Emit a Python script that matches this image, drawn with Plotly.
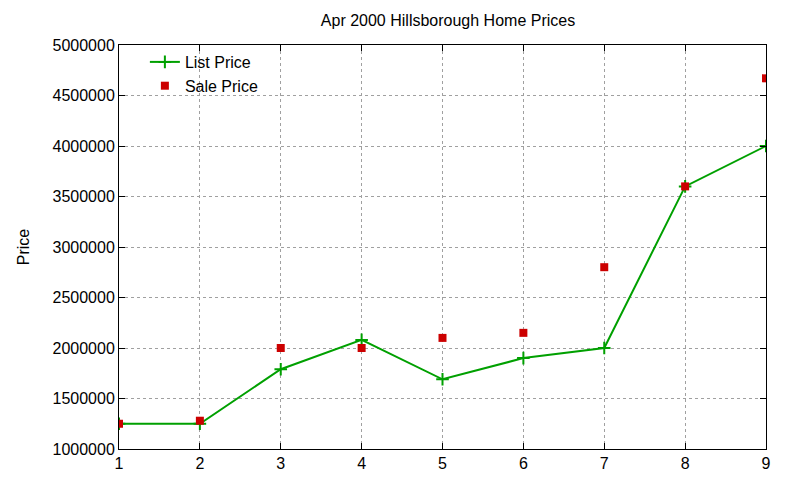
import plotly.graph_objects as go

x = [1, 2, 3, 4, 5, 6, 7, 8, 9]
list_price = [1250000, 1250000, 1790000, 2080000, 1690000, 1900000, 2000000, 3600000, 4000000]
sale_price = [1250000, 1280000, 2000000, 2000000, 2100000, 2150000, 2800000, 3600000, 4670000]

fig = go.Figure()
fig.add_trace(go.Scatter(x=x, y=list_price, mode="lines+markers", name="List Price",
                         line=dict(color="#00a000", width=2),
                         marker=dict(symbol="cross-thin", size=9, line=dict(color="#00a000", width=2))))
fig.add_trace(go.Scatter(x=x, y=sale_price, mode="markers", name="Sale Price",
                         marker=dict(symbol="square", size=8, color="#cc0000")))

axis = dict(showline=True, mirror="ticks", linecolor="black", linewidth=1,
            ticks="inside", ticklen=6, tickcolor="black", tickfont=dict(size=16),
            showgrid=True, gridcolor="#a0a0a0", griddash="dot", gridwidth=1, zeroline=False)
fig.update_layout(
    width=800, height=480, paper_bgcolor="white", plot_bgcolor="white",
    margin=dict(l=111, r=42, t=37, b=39),
    font=dict(family="Liberation Sans, Arial", size=16, color="black"),
    title=dict(text="Apr 2000 Hillsborough Home Prices", x=0.55, y=0.975, yanchor="middle",
               xanchor="center", font=dict(size=16)),
    legend=dict(x=0.04, y=1.0, xanchor="left", yanchor="top", bgcolor="rgba(0,0,0,0)",
                font=dict(size=16), tracegroupgap=0),
)
fig.update_xaxes(range=[1, 9], dtick=1, **axis)
fig.update_yaxes(range=[1000000, 5000000], dtick=500000, tickformat="d",
                 title=dict(text="Price", standoff=18, font=dict(size=16)), **axis)
fig.write_html("out.html")
